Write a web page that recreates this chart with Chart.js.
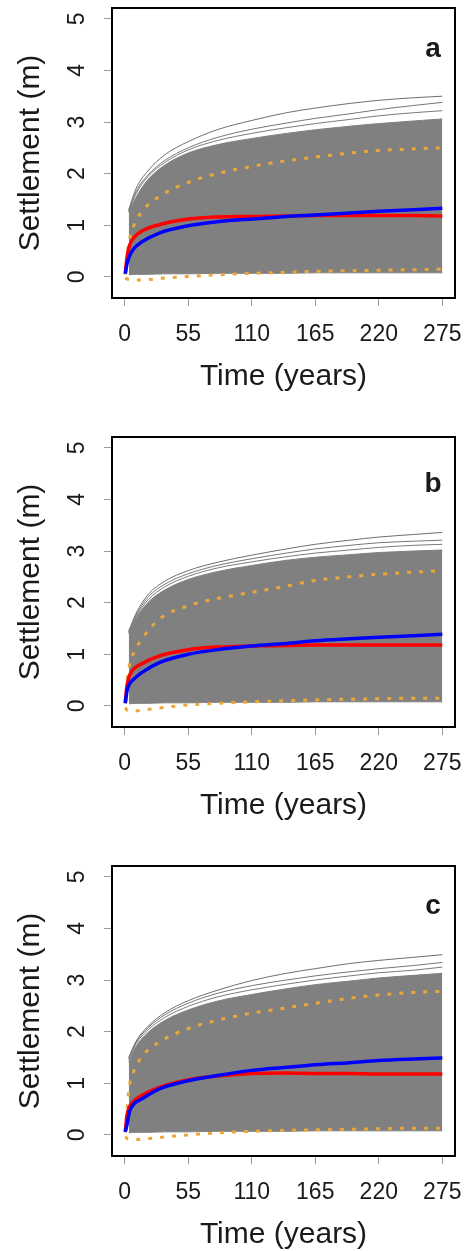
<!DOCTYPE html>
<html>
<head>
<meta charset="utf-8">
<script src="https://cdn.jsdelivr.net/npm/chart.js@4.4.0/dist/chart.umd.min.js"></script>
<style>
  html, body { margin: 0; padding: 0; background: #fff; }
  body { width: 467px; height: 1251px; position: relative; overflow: hidden; }
  canvas { position: absolute; left: 0; }
</style>
</head>
<body>
<canvas id="panelA" width="467" height="393" style="top:0px"></canvas>
<canvas id="panelB" width="467" height="393" style="top:429px"></canvas>
<canvas id="panelC" width="467" height="393" style="top:858px"></canvas>
<script>
// axis ticks
const xTicks = [0, 55, 110, 165, 220, 275];
const yTicks = [0, 1, 2, 3, 4, 5];

// time samples (years)
const curveTime = [0.5, 2, 4, 8, 15, 30, 55, 80, 110, 140, 165, 195, 220, 250, 275];
const bandTime = [3.5, 10, 20, 35, 55, 80, 110, 140, 165, 195, 220, 250, 275];

// panel a
const redA   = [0.07, 0.38, 0.60, 0.76, 0.89, 1.01, 1.12, 1.16, 1.17, 1.18, 1.19, 1.19, 1.19, 1.19, 1.18];
const blueA  = [0.06, 0.26, 0.40, 0.55, 0.68, 0.85, 0.99, 1.07, 1.12, 1.17, 1.20, 1.24, 1.27, 1.30, 1.33];
const upperA = [0.05, 0.42, 0.72, 1.00, 1.27, 1.56, 1.83, 2.00, 2.14, 2.25, 2.32, 2.40, 2.45, 2.48, 2.50];
const lowerA = [-0.02, -0.04, -0.05, -0.06, -0.06, -0.03, 0.01, 0.04, 0.07, 0.09, 0.11, 0.12, 0.13, 0.14, 0.15];
const floorA = [0.04, 0.05, 0.05, 0.06, 0.06, 0.07, 0.07, 0.07, 0.08, 0.08, 0.08, 0.08, 0.08];
const bandA  = [1.25, 1.55, 1.88, 2.17, 2.40, 2.56, 2.68, 2.78, 2.85, 2.92, 2.97, 3.02, 3.06];
const outerA = [1.30, 1.72, 2.05, 2.37, 2.62, 2.85, 3.03, 3.18, 3.27, 3.36, 3.42, 3.47, 3.50];
const traceA2 = [1.28, 1.66, 1.97, 2.26, 2.50, 2.70, 2.86, 2.98, 3.07, 3.16, 3.24, 3.32, 3.38];
const traceA3 = [1.27, 1.62, 1.94, 2.22, 2.46, 2.64, 2.78, 2.89, 2.97, 3.05, 3.12, 3.18, 3.22];

// panel b
const redB   = [0.07, 0.40, 0.58, 0.72, 0.82, 0.97, 1.09, 1.14, 1.16, 1.17, 1.18, 1.18, 1.18, 1.18, 1.18];
const blueB  = [0.05, 0.29, 0.42, 0.52, 0.65, 0.84, 1.00, 1.09, 1.16, 1.21, 1.26, 1.30, 1.33, 1.36, 1.39];
const upperB = [0.05, 0.45, 0.78, 1.04, 1.30, 1.68, 1.94, 2.08, 2.20, 2.32, 2.43, 2.50, 2.55, 2.59, 2.62];
const lowerB = [-0.03, -0.08, -0.10, -0.10, -0.08, -0.04, 0.02, 0.05, 0.08, 0.10, 0.12, 0.13, 0.14, 0.15, 0.15];
const floorB = [0.04, 0.05, 0.05, 0.06, 0.06, 0.07, 0.07, 0.07, 0.08, 0.08, 0.08, 0.08, 0.08];
const bandB  = [1.40, 1.70, 2.00, 2.25, 2.45, 2.60, 2.72, 2.82, 2.88, 2.93, 2.97, 3.00, 3.02];
const outerB = [1.45, 1.80, 2.15, 2.42, 2.62, 2.78, 2.92, 3.04, 3.13, 3.21, 3.27, 3.32, 3.36];
const traceB2 = [1.43, 1.76, 2.10, 2.36, 2.56, 2.72, 2.85, 2.96, 3.04, 3.11, 3.16, 3.19, 3.21];
const traceB3 = [1.42, 1.73, 2.05, 2.31, 2.51, 2.67, 2.79, 2.89, 2.96, 3.02, 3.07, 3.11, 3.13];

// panel c
const redC   = [0.07, 0.38, 0.54, 0.66, 0.77, 0.92, 1.07, 1.14, 1.19, 1.20, 1.19, 1.19, 1.18, 1.18, 1.18];
const blueC  = [0.06, 0.20, 0.44, 0.60, 0.70, 0.89, 1.05, 1.15, 1.25, 1.31, 1.36, 1.40, 1.44, 1.47, 1.49];
const upperC = [0.05, 0.50, 0.95, 1.24, 1.52, 1.80, 2.06, 2.22, 2.36, 2.46, 2.55, 2.65, 2.71, 2.76, 2.78];
const lowerC = [-0.03, -0.07, -0.08, -0.09, -0.08, -0.05, 0.00, 0.04, 0.07, 0.09, 0.10, 0.11, 0.12, 0.13, 0.13];
const floorC = [0.04, 0.05, 0.05, 0.06, 0.06, 0.07, 0.07, 0.07, 0.08, 0.08, 0.08, 0.08, 0.08];
const bandC  = [1.42, 1.72, 1.98, 2.22, 2.42, 2.59, 2.72, 2.83, 2.91, 2.98, 3.04, 3.09, 3.13];
const outerC = [1.50, 1.82, 2.10, 2.37, 2.60, 2.80, 2.99, 3.13, 3.22, 3.32, 3.38, 3.44, 3.49];
const traceC2 = [1.48, 1.80, 2.07, 2.33, 2.55, 2.74, 2.89, 3.00, 3.08, 3.16, 3.22, 3.28, 3.34];
const traceC3 = [1.46, 1.77, 2.03, 2.28, 2.49, 2.67, 2.81, 2.92, 3.00, 3.08, 3.14, 3.19, 3.25];

const FONT = '"Liberation Sans", Arial, sans-serif';
const INK = '#1a1a1a';

function pts(times, vals) {
    return times.map((t, i) => ({ x: t, y: vals[i] }));
}

// R-style frame, rotated y labels and the panel letter
const framePlugin = {
    id: 'rframe',
    afterDraw(chart, args, opts) {
        const { ctx, chartArea: a, scales } = chart;
        ctx.save();
        ctx.strokeStyle = '#000';
        ctx.lineWidth = 2;
        ctx.strokeRect(a.left, a.top, a.right - a.left, a.bottom - a.top);

        ctx.fillStyle = INK;
        ctx.font = '23px ' + FONT;
        ctx.textAlign = 'center';
        ctx.textBaseline = 'middle';
        yTicks.forEach(v => {
            const y = scales.y.getPixelForValue(v);
            ctx.save();
            ctx.translate(a.left - 34, y);
            ctx.rotate(-Math.PI / 2);
            ctx.fillText(String(v), 0, 0);
            ctx.restore();
        });

        ctx.font = 'bold 28px ' + FONT;
        ctx.textBaseline = 'alphabetic';
        ctx.fillText(opts.letter, 433, opts.letterBase);
        ctx.restore();
    }
};

function line(data, color, width, dash) {
    return {
        data: data,
        borderColor: color,
        borderWidth: width,
        borderDash: dash || [],
        pointRadius: 0,
        fill: false,
        cubicInterpolationMode: 'monotone'
    };
}

function drawPanel(id, letter, letterBase, s) {
    const band = line(pts(bandTime, s.band), '#808080', 1);
    band.fill = '+1';
    band.backgroundColor = '#808080';

    new Chart(document.getElementById(id), {
        type: 'line',
        data: {
            datasets: [
                line(pts(curveTime, s.blue), '#0000ff', 3.5),
                line(pts(curveTime, s.red), '#ff0000', 3.5),
                line(pts(curveTime, s.upper), '#eaa83a', 3, [4, 8]),
                line(pts(curveTime, s.lower), '#eaa83a', 3, [4, 8]),
                line(pts(bandTime, s.outer), '#6e6e6e', 1),
                line(pts(bandTime, s.trace2), '#767676', 1),
                line(pts(bandTime, s.trace3), '#7a7a7a', 1),
                band,
                line(pts(bandTime, s.floor), '#808080', 1)
            ]
        },
        plugins: [framePlugin],
        options: {
            responsive: false,
            animation: false,
            layout: { padding: { top: 8, right: 12, left: 0, bottom: 0 } },
            plugins: {
                legend: { display: false },
                tooltip: { enabled: false },
                rframe: { letter: letter, letterBase: letterBase }
            },
            scales: {
                x: {
                    type: 'linear',
                    min: -11,
                    max: 286,
                    afterBuildTicks: sc => { sc.ticks = xTicks.map(v => ({ value: v })); },
                    afterFit: sc => {
                        sc.height = 95;
                        // keep the frame where it is even if "275" hangs over the edge
                        sc.paddingLeft = 0;
                        sc.paddingRight = 0;
                    },
                    grid: { drawOnChartArea: false, tickLength: 8, color: '#999' },
                    border: { display: false },
                    ticks: { font: { size: 23, family: FONT }, color: INK, padding: 15, maxRotation: 0, autoSkip: false },
                    title: {
                        display: true,
                        text: 'Time (years)',
                        color: INK,
                        font: { size: 30, family: FONT, lineHeight: 1 },
                        padding: { top: 0, bottom: 1 }
                    }
                },
                y: {
                    type: 'linear',
                    min: -0.408,
                    max: 5.208,
                    afterBuildTicks: sc => { sc.ticks = yTicks.map(v => ({ value: v })); },
                    afterFit: sc => {
                        sc.width = 112;
                        sc.paddingTop = 0;
                        sc.paddingBottom = 0;
                    },
                    grid: { drawOnChartArea: false, tickLength: 8, color: '#999' },
                    border: { display: false },
                    ticks: { display: false },
                    title: {
                        display: true,
                        text: 'Settlement (m)',
                        color: INK,
                        font: { size: 30, family: FONT, lineHeight: 1 },
                        padding: { top: 16, bottom: 0 }
                    }
                }
            }
        }
    });
}

drawPanel('panelA', 'a', 57, { red: redA, blue: blueA, upper: upperA, lower: lowerA, floor: floorA, band: bandA, outer: outerA, trace2: traceA2, trace3: traceA3 });
drawPanel('panelB', 'b', 63, { red: redB, blue: blueB, upper: upperB, lower: lowerB, floor: floorB, band: bandB, outer: outerB, trace2: traceB2, trace3: traceB3 });
drawPanel('panelC', 'c', 56, { red: redC, blue: blueC, upper: upperC, lower: lowerC, floor: floorC, band: bandC, outer: outerC, trace2: traceC2, trace3: traceC3 });
</script>
</body>
</html>
